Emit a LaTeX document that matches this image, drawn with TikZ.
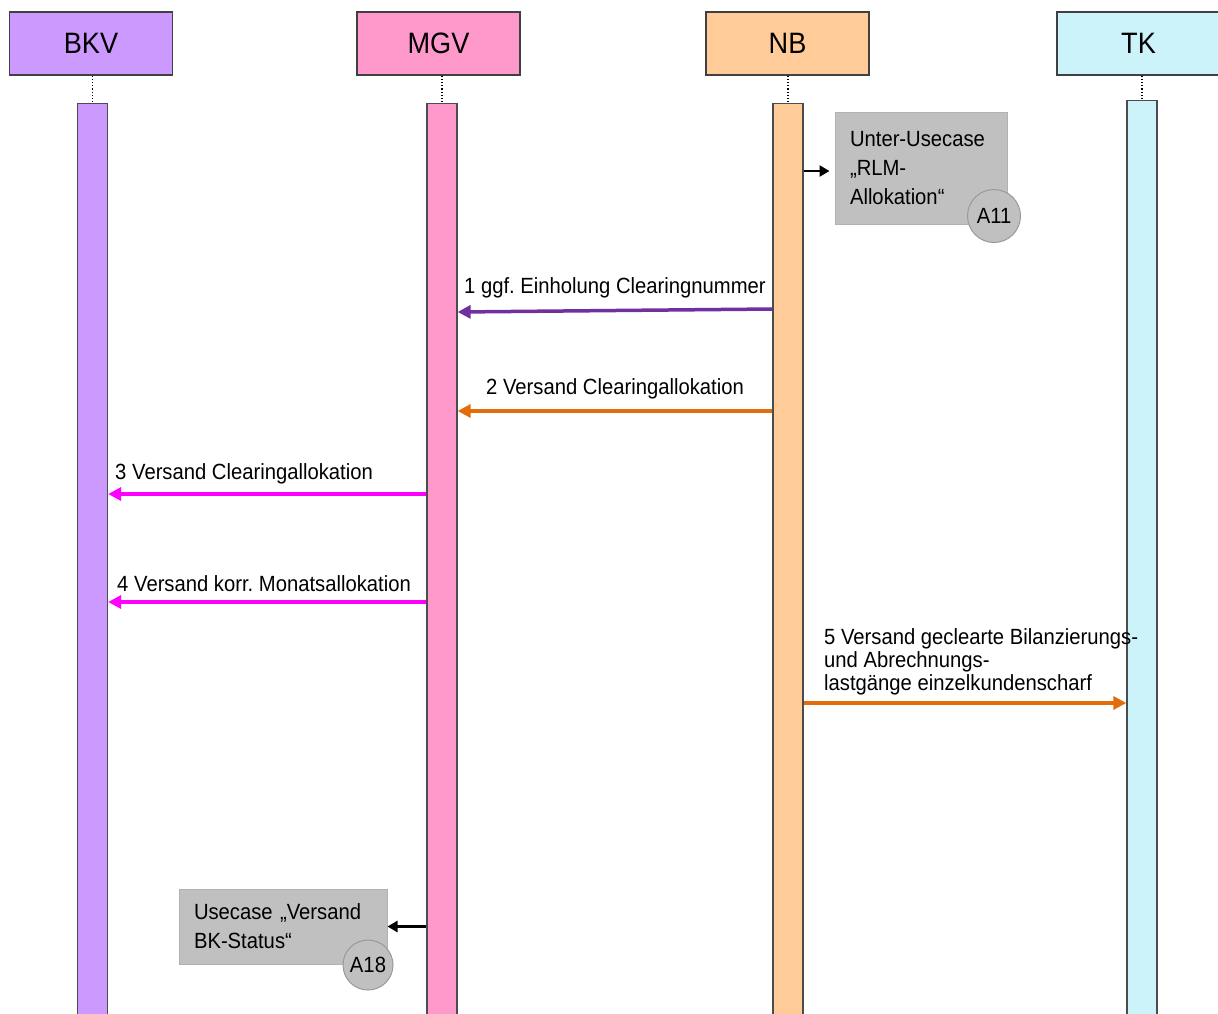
\documentclass[tikz,border=0pt]{standalone}
\usepackage{fontspec}
\setmainfont[FakeStretch=0.92]{Liberation Sans}
\usetikzlibrary{positioning,arrows.meta}

\definecolor{bkvboja}{HTML}{CC99FF}
\definecolor{mgvboja}{HTML}{FF99CC}
\definecolor{nbboja}{HTML}{FFCC99}
\definecolor{tkboja}{HTML}{CCF2FA}
\definecolor{ljubicasta}{HTML}{7030A0}
\definecolor{narandzasta}{HTML}{E46C0A}
\definecolor{roze}{HTML}{FF00FF}
\definecolor{sivaboja}{HTML}{C0C0C0}

\begin{document}
\frenchspacing
\begin{tikzpicture}[x=1pt, y=-1pt, font=\fontsize{22}{29}\selectfont,
    akter/.style={draw=black!75, line width=1.3pt, minimum width=163pt,
        minimum height=63pt, inner sep=0pt, font=\fontsize{29.5}{30}\selectfont},
    zivot/.style={draw=black!70, line width=1.3pt, anchor=north,
        minimum width=30pt, minimum height=930pt, inner sep=0pt},
    slucaj/.style={draw=black!30, line width=1pt, fill=sivaboja, align=left,
        inner xsep=15pt, inner ysep=0pt},
    krug/.style={circle, draw=black!40, line width=1pt, fill=sivaboja,
        inner sep=0pt},
    poruka/.style={line width=3.5pt, -{Triangle[length=13pt,width=13pt]}},
    poziv/.style={line width=2.8pt, -{Triangle[length=10pt,width=11pt]}}]
    \clip (0,0) rectangle (1218,1013);
    % zaglavlja ucesnika
    \node [akter, fill=bkvboja] (bkv) at (91,43.5)     {BKV};
    \node [akter, fill=mgvboja] (mgv) at (438.5,43.5)  {MGV};
    \node [akter, fill=nbboja]  (nb)  at (787.5,43.5)  {NB};
    \node [akter, fill=tkboja]  (tk)  at (1138.5,43.5) {TK};
    % linije zivota
    \node [zivot, fill=bkvboja] (bkvline) at (92.5,103) {};
    \node [zivot, fill=mgvboja] (mgvline) at (442,103)  {};
    \node [zivot, fill=nbboja]  (nbline)  at (788,103)  {};
    \node [zivot, fill=tkboja]  (tkline)  at (1142,100) {};
    \foreach \a in {bkv,mgv,nb,tk}{
        \draw [dotted, line width=1.2pt] (\a.south -| \a line.north) -- (\a line.north);
    }
    % pod-slucajevi upotrebe
    \node [slucaj, minimum width=172pt, minimum height=112pt, text width=142pt]
        (rlm) at (921,168) {Unter-Usecase\\„RLM-\\Allokation“};
    \node [krug, minimum size=53pt] (a11) at (994,216) {A11};
    \node [slucaj, minimum width=208pt, minimum height=75pt, text width=178pt]
        (bks) at (283,926.5) {Usecase „Versand\\BK-Status“};
    \node [krug, minimum size=50pt] (a18) at (368,965) {A18};
    \draw [poziv] (nbline.east |- 0,171) -- ([xshift=-5pt]rlm.west |- 0,171);
    \draw [poziv] (mgvline.west |- bks.east) -- (bks.east);
    % poruke
    \draw [poruka, ljubicasta] (nbline.west |- 0,309) -- (mgvline.east |- 0,312)
        node [midway, above=7pt, black] {1 ggf. Einholung Clearingnummer};
    \draw [poruka, narandzasta] (nbline.west |- 0,411) -- (mgvline.east |- 0,411)
        node [midway, above=7pt, black] {2 Versand Clearingallokation};
    \draw [poruka, roze] (mgvline.west |- 0,494) -- (bkvline.east |- 0,494)
        node [pos=1, anchor=south west, xshift=2pt, yshift=5pt, black] {3 Versand Clearingallokation};
    \draw [poruka, roze] (mgvline.west |- 0,602) -- (bkvline.east |- 0,602)
        node [pos=1, anchor=south west, xshift=4pt, yshift=5pt, black] {4 Versand korr. Monatsallokation};
    \draw [poruka, narandzasta] (nbline.east |- 0,703) -- (tkline.west |- 0,703);
    \node [anchor=north west, inner sep=0pt, align=left, font=\fontsize{22}{23}\selectfont]
        (l5) at (824,628) {5 Versand geclearte Bilanzierungs-\\und Abrechnungs-\\lastgänge einzelkundenscharf};
\end{tikzpicture}
\end{document}
